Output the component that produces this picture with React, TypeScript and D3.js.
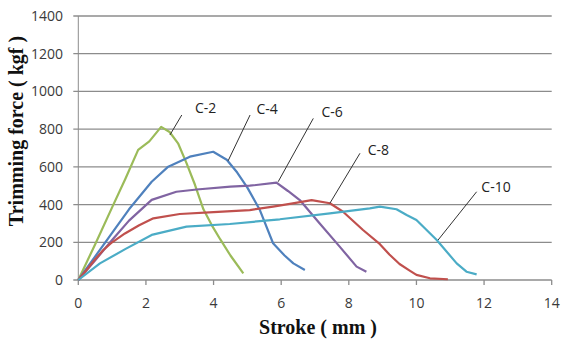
import React from "react";
import * as d3 from "d3";

// stroke (mm) / trimming force (kgf)
const c2Stroke = [0, 0.5, 1.0, 1.4, 1.77, 2.1, 2.45, 2.7, 2.95, 3.2, 3.45, 3.7, 3.95, 4.2, 4.5, 4.88];
const c2Force = [0, 190, 385, 540, 690, 735, 812, 785, 725, 620, 505, 375, 290, 215, 130, 35];

const c4Stroke = [0, 0.5, 1.0, 1.5, 2.17, 2.66, 3.3, 3.99, 4.39, 4.7, 5.0, 5.37, 5.76, 6.1, 6.36, 6.7];
const c4Force = [0, 125, 250, 375, 521, 601, 654, 680, 638, 570, 490, 371, 195, 130, 88, 53];

const c6Stroke = [0, 0.5, 1.0, 1.5, 2.17, 2.9, 3.5, 4.5, 5.07, 5.86, 6.2, 6.55, 7.14, 7.73, 8.23, 8.52];
const c6Force = [0, 105, 212, 315, 425, 468, 480, 495, 500, 516, 472, 424, 300, 177, 71, 44];

const c8Stroke = [0, 0.5, 0.74, 1.0, 1.38, 1.8, 2.22, 3.0, 4.0, 5.07, 5.76, 6.3, 6.9, 7.44, 7.83, 8.42, 8.92, 9.2, 9.5, 9.8, 10.0, 10.4, 10.93];
const c8Force = [0, 110, 159, 200, 247, 290, 327, 350, 360, 371, 389, 405, 424, 407, 362, 265, 190, 135, 85, 50, 27, 9, 4];

const c10Stroke = [0, 0.64, 1.4, 2.17, 3.2, 4.48, 5.96, 7.44, 8.62, 8.92, 9.41, 9.71, 10.0, 10.6, 11.19, 11.48, 11.78];
const c10Force = [0, 88, 165, 239, 283, 297, 322, 353, 380, 389, 375, 345, 318, 212, 88, 44, 30];

const seriesNames = ["C-2", "C-4", "C-6", "C-8", "C-10"];
const seriesColors = ["#9bbb59", "#4f81bd", "#8064a2", "#c0504d", "#4bacc6"];

const xTicks = [0, 2, 4, 6, 8, 10, 12, 14];
const yTicks = [0, 200, 400, 600, 800, 1000, 1200, 1400];

// callout: label position and leader line (start, end) in data units
const labelX = [3.45, 5.27, 7.19, 8.56, 11.92];
const labelY = [885, 880, 866, 663, 468];
const leaderFrom = [[3.06, 875], [5.08, 875], [6.95, 857], [8.33, 672], [11.78, 468]];
const leaderTo = [[2.71, 769], [4.43, 632], [5.91, 521], [7.44, 407], [10.64, 212]];

export default function App() {
  const width = 561;
  const height = 340;

  const x = d3.scaleLinear().domain([0, 14]).range([78.3, 551.7]);
  const y = d3.scaleLinear().domain([0, 1400]).range([280, 16]);

  const series = [
    [c2Stroke, c2Force],
    [c4Stroke, c4Force],
    [c6Stroke, c6Force],
    [c8Stroke, c8Force],
    [c10Stroke, c10Force],
  ].map(([xs, ys]) => xs.map((v, i) => [v, ys[i]] as [number, number]));

  const line = d3
    .line<[number, number]>()
    .x((d) => x(d[0]))
    .y((d) => y(d[1]));

  const tickFont = "'Open Sans', 'Liberation Sans', sans-serif";

  return (
    <svg width={width} height={height} style={{ position: "absolute", left: 0, top: 0, background: "#fff" }}>
      {/* grid */}
      {yTicks.map((t) => (
        <line key={t} x1={x(0) - 5} x2={x(14)} y1={y(t)} y2={y(t)} stroke="#8c8c8c" strokeWidth={1.3} />
      ))}
      <line x1={x(0)} x2={x(0)} y1={y(0)} y2={y(1400)} stroke="#8c8c8c" strokeWidth={1} />
      {xTicks.map((t) => (
        <line key={t} x1={x(t)} x2={x(t)} y1={y(0)} y2={y(0) + 5} stroke="#8c8c8c" strokeWidth={1.3} />
      ))}

      {/* tick labels */}
      {yTicks.map((t) => (
        <text key={t} x={63} y={y(t) + 5} textAnchor="end" fontSize={14} fill="#3a3a3a" fontFamily={tickFont}>
          {t}
        </text>
      ))}
      {xTicks.map((t) => (
        <text key={t} x={x(t)} y={308} textAnchor="middle" fontSize={14} fill="#3a3a3a" fontFamily={tickFont}>
          {t}
        </text>
      ))}

      {/* curves */}
      {series.map((s, i) => (
        <path key={seriesNames[i]} d={line(s) || ""} fill="none" stroke={seriesColors[i]} strokeWidth={2.2} strokeLinejoin="round" />
      ))}

      {/* callouts */}
      {seriesNames.map((n, i) => (
        <g key={n}>
          <line
            x1={x(leaderFrom[i][0])}
            y1={y(leaderFrom[i][1])}
            x2={x(leaderTo[i][0])}
            y2={y(leaderTo[i][1])}
            stroke="#333"
            strokeWidth={1}
          />
          <text x={x(labelX[i])} y={y(labelY[i])} fontSize={14} fill="#222" fontFamily={tickFont}>
            {n}
          </text>
        </g>
      ))}

      {/* axis titles */}
      <text x={318} y={334} textAnchor="middle" fontSize={20} fontWeight="bold" fontFamily="'Liberation Serif', 'Times New Roman', serif" fill="#111">
        Stroke ( mm )
      </text>
      <text
        transform="translate(23,131) rotate(-90)"
        textAnchor="middle"
        fontSize={20}
        fontWeight="bold"
        fontFamily="'Liberation Serif', 'Times New Roman', serif"
        fill="#111"
      >
        Trimming force ( kgf )
      </text>
    </svg>
  );
}
